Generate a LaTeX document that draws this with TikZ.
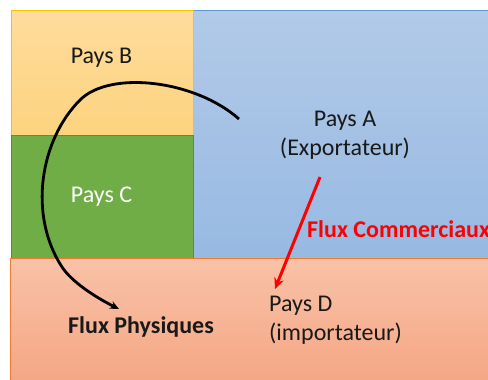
\documentclass[tikz,border=0pt]{standalone}
\usepackage{fontspec}
\setmainfont{Carlito}
\usetikzlibrary{arrows.meta}
\definecolor{bTop}{HTML}{FEDC9C}
\definecolor{bBot}{HTML}{FDD37E}
\definecolor{bLine}{HTML}{FFC000}
\definecolor{cFill}{HTML}{70AD47}
\definecolor{cLine}{HTML}{5A8F38}
\definecolor{aTop}{HTML}{B2CAE8}
\definecolor{aBot}{HTML}{97B9E2}
\definecolor{aLine}{HTML}{5B9BD5}
\definecolor{dTop}{HTML}{F8C2A8}
\definecolor{dBot}{HTML}{F5A683}
\definecolor{dLine}{HTML}{ED7D31}
\definecolor{fluxRed}{HTML}{FF0000}
\tikzset{
  zone/.style={rectangle, anchor=north west, inner sep=0pt, line width=1bp},
  lbl/.style={inner sep=0pt, font=\fontsize{24bp}{29bp}\selectfont, text=black!90},
  flux/.style={line width=2.8bp, black, -{Stealth[length=9bp,width=8bp]}},
  com/.style={line width=3bp, fluxRed, -{Stealth[length=11bp,width=10bp]}}
}
\begin{document}
\begin{tikzpicture}[x=1bp,y=-1bp]
\useasboundingbox (0,0) rectangle (488,379);
\fill[white] (0,0) rectangle (488,379);
% zones
\node[zone, draw=aLine, top color=aTop, bottom color=aBot, minimum width=300bp, minimum height=249bp] (zA) at (193,10) {};
\node[zone, draw=bLine, top color=bTop, bottom color=bBot, minimum width=182bp, minimum height=125bp] (zB) at (11,10) {};
\node[zone, draw=cLine, fill=cFill, minimum width=182bp, minimum height=124bp] (zC) at (11,135) {};
\node[zone, draw=dLine, top color=dTop, bottom color=dBot, minimum width=485bp, minimum height=125bp] (zD) at (10,258) {};
% labels
\node[lbl] (tB) at (101.5,58) {Pays B};
\node[lbl, text=white] (tC) at (101.5,197) {Pays C};
\node[lbl, align=center] (tA) at (345,135) {Pays A\\(Exportateur)};
\node[lbl, align=left, anchor=west] (tD) at (269,320) {Pays D\\(importateur)};
\node[lbl, font=\fontsize{24bp}{29bp}\selectfont\bfseries] (tP) at (141,327) {Flux Physiques};
\node[lbl, anchor=west, text=fluxRed, font=\fontsize{24bp}{29bp}\selectfont\bfseries] (tF) at (307,229) {Flux Commerciaux};
% connectors
\coordinate (pStart) at (239,119);
\coordinate (pEnd) at (119,309);
\coordinate (rStart) at (320,177);
\coordinate (rEnd) at (275,289);
\draw[flux] (pStart) .. controls (195,80) and (110,70) .. (80,100)
  .. controls (40,140) and (28,215) .. (62,267)
  .. controls (72,282) and (95,297) .. (pEnd);
\draw[com] (rStart) -- (rEnd);
\end{tikzpicture}
\end{document}
